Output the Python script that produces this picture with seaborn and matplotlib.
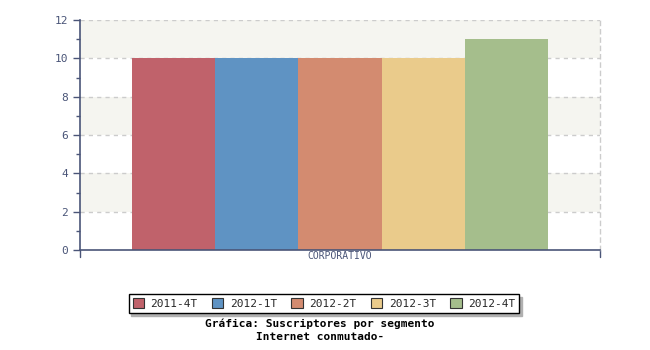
import matplotlib
matplotlib.use("Agg")
import matplotlib.pyplot as plt
import seaborn as sns
import pandas as pd
from matplotlib.ticker import MultipleLocator
from matplotlib.patches import Patch

categories = ["CORPORATIVO"]
periods = ["2011-4T", "2012-1T", "2012-2T", "2012-3T", "2012-4T"]
values = [10, 10, 10, 10, 11]
colors = ["#C0626B", "#5F93C3", "#D38B70", "#EACB8B", "#A5BE8C"]
yticks = [0, 2, 4, 6, 8, 10, 12]
title_lines = ["Gráfica: Suscriptores por segmento", "Internet conmutado-"]

df = pd.DataFrame({"segmento": categories * len(periods), "periodo": periods, "valor": values})

sns.set_style("white")
plt.rcParams['font.family'] = ['DejaVu Sans Mono']
axcol = "#4A5578"
gridcol = "#CCCCCC"

fig = plt.figure(figsize=(6.5, 3.5), dpi=100)
ax = fig.add_axes([80/650, 1-250/350, 520/650, 230/350])

# background bands
for lo in [2, 6, 10]:
    ax.axhspan(lo, lo + 2, color="#F5F5F0", zorder=0, lw=0)
for y in yticks[1:]:
    ax.axhline(y, color=gridcol, ls=(0, (3, 3)), lw=1, zorder=0.5)

sns.barplot(data=df, x="segmento", y="valor", hue="periodo", hue_order=periods,
            palette=colors, width=0.8, saturation=1, ax=ax, legend=False,
            edgecolor="none", zorder=2)
for p in ax.patches:
    p.set_edgecolor("none")
    p.set_linewidth(0)

ax.set_xlim(-0.5, 0.5)
ax.set_ylim(0, 12)
ax.set_yticks(yticks)
ax.yaxis.set_minor_locator(MultipleLocator(1))
ax.set_xlabel("")
ax.set_ylabel("")
ax.spines["top"].set_visible(False)
ax.spines["right"].set_visible(True)
ax.spines["right"].set_color(gridcol)
ax.spines["right"].set_linestyle((0, (3, 3)))
ax.spines["right"].set_linewidth(1)
for s in ["left", "bottom"]:
    ax.spines[s].set_color(axcol)
    ax.spines[s].set_linewidth(1.2)
    ax.spines[s].set_zorder(3)
ax.tick_params(axis="y", which="major", direction="out", length=5, color=axcol,
               labelcolor=axcol, labelsize=8, width=1, left=True)
ax.tick_params(axis="y", which="minor", direction="out", length=3, color=axcol, width=1, left=True)
ax.tick_params(axis="x", length=0, labelcolor=axcol, labelsize=7, pad=1)
ax.plot([0, 0], [0, -0.03], transform=ax.transAxes, color=axcol, lw=1, clip_on=False)
ax.plot([1, 1], [0, -0.03], transform=ax.transAxes, color=axcol, lw=1, clip_on=False)

# legend
handles = [Patch(facecolor=c, edgecolor="#333333", lw=0.8) for c in colors]
leg = fig.legend(handles, periods, loc="center", bbox_to_anchor=(324/650, 1-303.5/350),
                 ncol=5, frameon=True, fontsize=8, handlelength=1.0, handleheight=1.0,
                 handletextpad=0.6, columnspacing=1.3, borderpad=0.35, fancybox=False,
                 shadow={"color": "#B0B0B0", "alpha": 1}, edgecolor="#000000")
leg.get_frame().set_linewidth(1)

fig.text(320/650, 1-324/350, title_lines[0], ha="center", va="center",
         fontsize=8, fontweight="bold", color="#000000")
fig.text(320/650, 1-337/350, title_lines[1], ha="center", va="center",
         fontsize=8, fontweight="bold", color="#000000")

fig.savefig("out.png", dpi=100)
